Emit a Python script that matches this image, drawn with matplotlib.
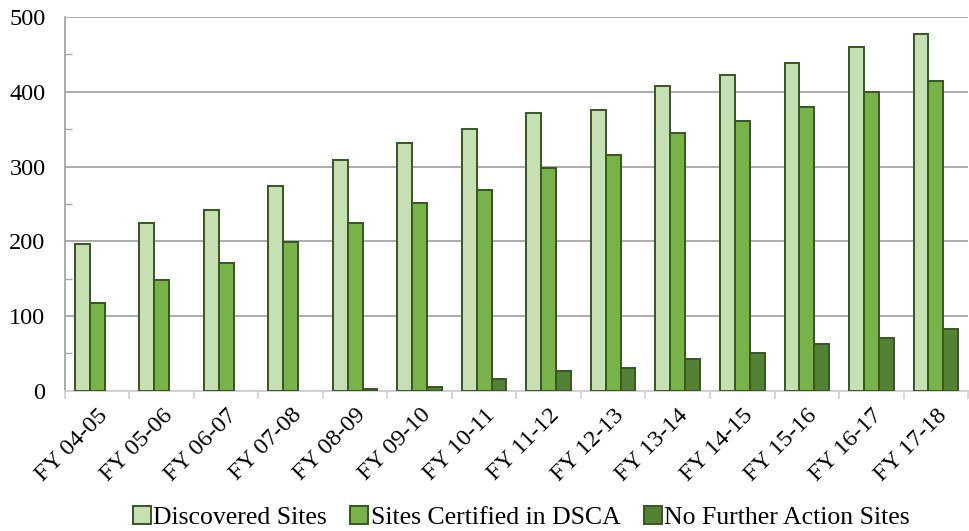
import matplotlib
matplotlib.use("Agg")
import matplotlib.pyplot as plt
import numpy as np

# values
years = ["FY 04-05", "FY 05-06", "FY 06-07", "FY 07-08", "FY 08-09", "FY 09-10", "FY 10-11",
         "FY 11-12", "FY 12-13", "FY 13-14", "FY 14-15", "FY 15-16", "FY 16-17", "FY 17-18"]
discovered = [196, 225, 242, 274, 309, 332, 350, 371, 375, 408, 422, 439, 460, 477]
certified = [118, 148, 171, 199, 225, 251, 269, 298, 316, 345, 361, 379, 400, 414]
no_further = [0, 0, 0, 0, 3, 5, 16, 27, 30, 42, 51, 63, 70, 83]

series_names = ["Discovered Sites", "Sites Certified in DSCA", "No Further Action Sites"]
colors = ["#C6E0B4", "#78B34A", "#548235"]
edge = "#375623"

plt.rcParams['font.family'] = ['Liberation Serif', 'DejaVu Serif']

fig = plt.figure(figsize=(9.69, 5.31), dpi=100)
ax = fig.add_axes([0.067, 0.264, 0.932, 0.704])

x = np.arange(len(years))
w = 0.23
for k, vals in enumerate([discovered, certified, no_further]):
    vals = np.array(vals, dtype=float)
    keep = vals > 0  # empty years have no bar at all
    ax.bar(x[keep] + (k - 1) * w, vals[keep], width=w, color=colors[k], edgecolor=edge,
           linewidth=1.4, label=series_names[k], zorder=3)

ax.set_xlim(-0.5, len(years) - 0.5)
ax.set_ylim(0, 500)
ax.set_yticks(np.arange(0, 501, 100))
ax.set_yticks(np.arange(50, 500, 100), minor=True)
ax.yaxis.grid(True, which='major', color='#A6A6A6', linewidth=1.3, zorder=0)
ax.tick_params(axis='y', which='major', length=0, pad=14, labelsize=17.5)
ax.tick_params(axis='y', which='minor', length=5, direction='in', color='#A6A6A6', width=1)

ax.set_xticks(x)
ax.set_xticklabels(years, rotation=45, ha='right', rotation_mode='anchor')
ax.set_xticks(np.arange(-0.5, len(years), 1), minor=True)
ax.tick_params(axis='x', which='major', length=0, pad=10, labelsize=17.5)
ax.tick_params(axis='x', which='minor', length=6, color='#D0D0D0', width=1.2)

for s in ['top', 'right']:
    ax.spines[s].set_visible(False)
ax.spines['left'].set_color('#A6A6A6')
ax.spines['left'].set_linewidth(1.3)
ax.spines['bottom'].set_color('#D0D0D0')
ax.spines['bottom'].set_linewidth(1.3)

fig.legend(loc='center', bbox_to_anchor=(0.538, 0.026), ncol=3, frameon=False,
           fontsize=18.5, handlelength=0.7, handleheight=0.7, handletextpad=0.1,
           columnspacing=0.9)

fig.savefig("out.png", dpi=100)
